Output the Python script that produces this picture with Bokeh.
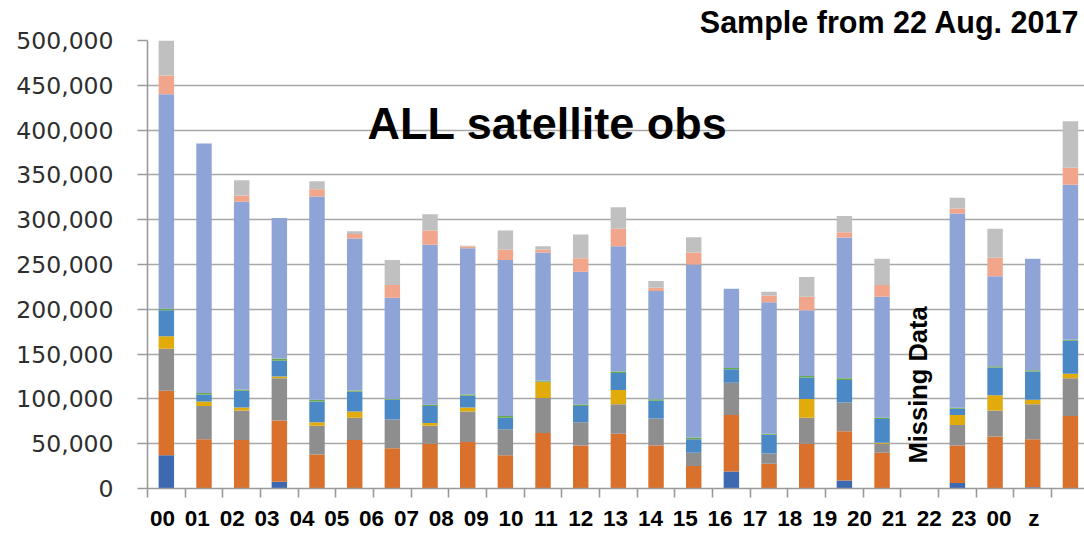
import numpy as np
from bokeh.plotting import figure
from bokeh.models import (Range1d, FixedTicker, NumeralTickFormatter, Label,
                          ColumnDataSource, LinearAxis, Title)
from bokeh.embed import file_html
from bokeh.resources import INLINE

# ---------------- data (observation counts, thousands) ----------------
hour_labels = ["00", "01", "02", "03", "04", "05", "06", "07", "08", "09",
               "10", "11", "12", "13", "14", "15", "16", "17", "18", "19",
               "20", "21", "22", "23", "00", "z"]

series_names = ["s1", "s2", "s3", "s4", "s5", "s6", "s7", "s8", "s9"]
series_colors = ["#3d69b3", "#d9702b", "#8e8e8e", "#e2ab0c", "#4a89c5",
                 "#6aa84f", "#8ea3d6", "#f1a68b", "#c0c0c0"]

s1 = [37, 0, 0, 7.4, 0, 0, 0, 0, 0, 0, 0, 0, 0, 0, 0, 19, 0, 0, 9, 0, 0, 6, 0, 1.5, 0]
s2 = [72, 55, 54, 68.6, 38, 54, 45, 50, 52, 37, 62, 48, 61, 48, 25, 63, 27.5, 50, 55, 40, 0, 42, 58, 53.5, 81]
s3 = [47, 37, 33, 47, 32, 25, 32, 20, 34, 29, 39, 26, 33, 30, 15, 36, 11.5, 29, 32, 10, 0, 23, 29, 39, 42]
s4 = [14, 5, 3.5, 2, 4, 7, 0, 3, 4.5, 0, 18, 0, 16, 0, 0, 0, 0, 21, 0, 1, 0, 11, 17, 5, 5]
s5 = [29, 8, 18.5, 17.5, 23, 22, 22, 19, 13, 13, 0.5, 18, 19, 20, 15, 15, 21, 24, 25, 26.5, 0, 7, 31, 31.5, 37]
s6 = [1.5, 1.5, 1.5, 2.5, 2, 1.5, 1, 1.5, 1.5, 2, 1, 1.5, 1.5, 1.5, 2, 1.5, 1, 1.5, 2, 1.5, 0, 1, 1.5, 1.5, 1]
s7 = [239.5, 278.5, 209.5, 157, 227, 169.5, 113, 178.5, 163, 174, 143, 148.5, 140, 121, 193, 88.5, 147, 73.5, 157, 135, 0, 217, 100.5, 124.5, 173]
s8 = [21, 0, 7, 0, 8, 5, 14, 16, 2, 11.5, 3, 15, 19.5, 3.5, 13.5, 0, 7.5, 15, 6, 13, 0, 5.5, 20.5, 0, 19]
s9 = [39, 0, 17, 0, 9, 3, 28, 18, 1, 21.5, 4, 26.5, 24, 7.5, 17, 0, 4, 22, 18, 29.5, 0, 12, 32.5, 0, 52]

all_series = [s1, s2, s3, s4, s5, s6, s7, s8, s9]
n_slots = len(s1)

# ---------------- layout constants (screen pixels) ----------------
W, H = 1084, 533
FRAME_LEFT_PX = 147.0
CAT_PX = 37.67
ZERO_PX = 488.0
PX_PER_UNIT = 449.0 / 500000.0
LAB_FIRST_PX = 162.0   # centre of first hand-typed hour label
LAB_PITCH_PX = 34.85


def px_x(px):
    return (px - FRAME_LEFT_PX) / CAT_PX


def px_y(py):
    return (ZERO_PX - py) / PX_PER_UNIT


slot = np.arange(n_slots)
data = {"x": slot + 0.5}
for name, vals in zip(series_names, all_series):
    data[name] = np.array(vals) * 1000.0
source = ColumnDataSource(data)

p = figure(width=W, height=H, output_backend="svg", toolbar_location=None,
           x_range=Range1d(0, px_x(W)), y_range=Range1d(0, 500000),
           min_border_left=int(FRAME_LEFT_PX), min_border_right=0,
           min_border_top=39, min_border_bottom=int(H - ZERO_PX))
p.outline_line_color = None
p.background_fill_color = "white"
p.border_fill_color = "white"

p.title = Title(text="Sample from 22 Aug. 2017", align="right",
                text_font="Liberation Sans", text_font_style="bold",
                text_font_size="30.5px", text_color="black",
                offset=5, standoff=4)

p.vbar_stack(series_names, x="x", width=0.41, color=series_colors,
             line_color=None, source=source)

# grid
p.xgrid.grid_line_color = None
p.ygrid.grid_line_color = "#a8a8a8"
p.ygrid.grid_line_width = 1.6
p.ygrid.ticker = FixedTicker(ticks=list(range(0, 500001, 50000)))

# y axis
p.yaxis.ticker = FixedTicker(ticks=list(range(0, 500001, 50000)))
p.yaxis.formatter = NumeralTickFormatter(format="0,0")
p.yaxis.major_label_text_font = "DejaVu Sans"
p.yaxis.major_label_text_font_size = "23.5px"
p.yaxis.major_label_text_color = "#2e2e2e"
p.yaxis.major_label_standoff = 24
p.yaxis.major_tick_out = 10
p.yaxis.major_tick_in = 0
p.yaxis.minor_tick_out = 0
p.yaxis.minor_tick_in = 0
p.yaxis.axis_line_color = "#9a9a9a"
p.yaxis.axis_line_width = 1.6
p.yaxis.major_tick_line_color = "#9a9a9a"
p.yaxis.major_tick_line_width = 1.6

# x axis: only boundary tick marks between slots (as minor ticks, no labels)
p.xaxis.ticker = FixedTicker(ticks=[], minor_ticks=list(range(0, n_slots + 1)))
p.xaxis.minor_tick_out = 9
p.xaxis.minor_tick_in = 0
p.xaxis.minor_tick_line_color = "#9a9a9a"
p.xaxis.minor_tick_line_width = 1.6
p.xaxis.axis_line_color = "#9a9a9a"
p.xaxis.axis_line_width = 1.6

# second x axis carrying the hand-typed hour labels row
lab_start = (FRAME_LEFT_PX - LAB_FIRST_PX) / LAB_PITCH_PX
lab_end = (W - LAB_FIRST_PX) / LAB_PITCH_PX
p.extra_x_ranges = {"labels": Range1d(lab_start, lab_end)}
lab_ticks = list(range(len(hour_labels)))
lab_axis = LinearAxis(x_range_name="labels",
                      ticker=FixedTicker(ticks=lab_ticks, minor_ticks=[]),
                      major_label_overrides={i: t for i, t in zip(lab_ticks, hour_labels)},
                      axis_line_color=None, major_tick_line_color=None,
                      minor_tick_line_color=None,
                      major_tick_out=0, major_tick_in=0,
                      major_label_standoff=8,
                      major_label_text_font="Liberation Sans",
                      major_label_text_font_style="bold",
                      major_label_text_font_size="22.5px",
                      major_label_text_color="black")
p.add_layout(lab_axis, "below")

# big in-plot title
p.add_layout(Label(x=px_x(367), y=px_y(122.5), text="ALL satellite obs",
                   text_font="Liberation Sans", text_font_style="bold",
                   text_font_size="45px", text_color="black",
                   text_align="left", text_baseline="alphabetic"))

# missing data marker
totals = np.sum(np.array(all_series), axis=0)
missing_slot = int(np.where(totals == 0)[0][0])
p.add_layout(Label(x=missing_slot + 0.45, y=px_y(463), text="Missing Data",
                   angle=np.pi / 2,
                   text_font="Liberation Sans", text_font_style="bold",
                   text_font_size="25.5px", text_color="black",
                   text_align="left", text_baseline="alphabetic"))

open("out.html", "w").write(file_html(p, INLINE))
